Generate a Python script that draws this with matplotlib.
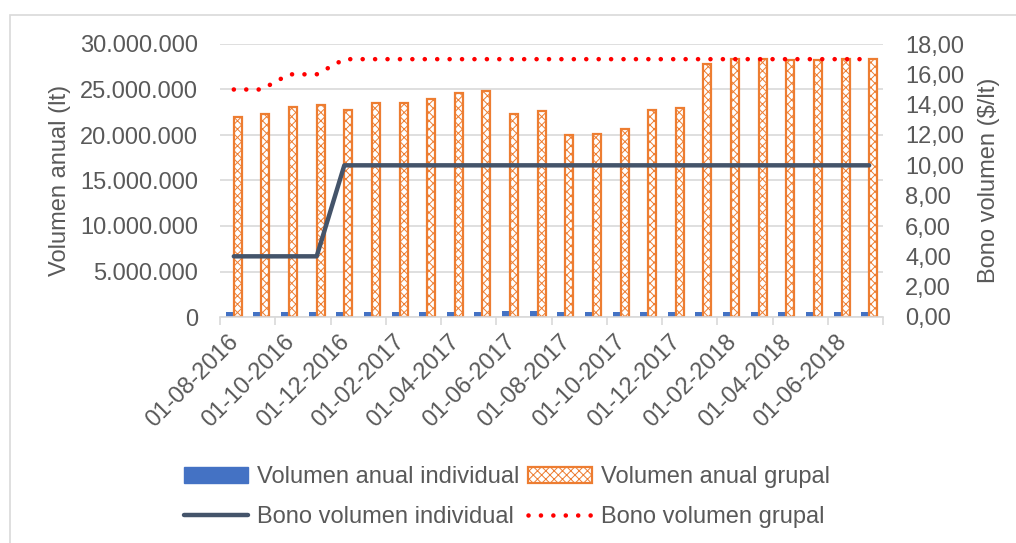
import matplotlib
matplotlib.use("Agg")
import matplotlib.pyplot as plt
from matplotlib.patches import Patch, Rectangle
from matplotlib.lines import Line2D
from matplotlib.ticker import FuncFormatter, FixedLocator
import matplotlib.transforms as mtransforms
import numpy as np

plt.rcParams['font.family'] = ['Liberation Sans', 'DejaVu Sans']
plt.rcParams['hatch.linewidth'] = 0.7

months = ["01-08-2016", "01-09-2016", "01-10-2016", "01-11-2016", "01-12-2016", "01-01-2017",
          "01-02-2017", "01-03-2017", "01-04-2017", "01-05-2017", "01-06-2017", "01-07-2017",
          "01-08-2017", "01-09-2017", "01-10-2017", "01-11-2017", "01-12-2017", "01-01-2018",
          "01-02-2018", "01-03-2018", "01-04-2018", "01-05-2018", "01-06-2018", "01-07-2018"]

vol_individual = [500000, 500000, 500000, 500000, 500000, 500000, 520000, 520000,
                  580000, 580000, 620000, 620000, 560000, 560000, 560000, 560000,
                  580000, 580000, 560000, 560000, 540000, 540000, 520000, 520000]
vol_grupal = [22000000, 22300000, 23050000, 23250000, 22800000, 23550000, 23500000, 24000000,
              24600000, 24800000, 22300000, 22600000, 20000000, 20100000, 20700000, 22800000,
              23000000, 27850000, 28400000, 28300000, 28250000, 28250000, 28300000, 28300000]
bono_individual = [4, 4, 4, 4, 10, 10, 10, 10, 10, 10, 10, 10,
                   10, 10, 10, 10, 10, 10, 10, 10, 10, 10, 10, 10]
bono_grupal = [15, 15, 16, 16, 17, 17, 17, 17, 17, 17, 17, 17,
               17, 17, 17, 17, 17, 17, 17, 17, 17, 17, 17, 17]

TXT = '#595959'
GRID = '#D9D9D9'
BLUE = '#4472C4'
ORANGE = '#ED7D31'
SLATE = '#44546A'
FS = 17

fig = plt.figure(figsize=(10.16, 5.43), dpi=100)
ax = fig.add_axes([220/1016, 226/543, 663/1016, 273/543])
ax2 = ax.twinx()

x = np.arange(len(months))
w = 0.29
ax.bar(x - w/2, vol_individual, width=w, color=BLUE, zorder=2)
ax.bar(x + w/2, vol_grupal, width=w, facecolor='white', edgecolor=ORANGE,
       hatch='xxxx', linewidth=1.6, zorder=2)

ax2.plot(x, bono_individual, color=SLATE, lw=3.2, solid_capstyle='round', zorder=3)
ax2.plot(x, bono_grupal, color='#FF0000', lw=3.3, linestyle=(0, (0.01, 2.7)),
         dash_capstyle='round', zorder=3)

ax.set_xlim(-0.5, len(months) - 0.5)
ax.set_ylim(0, 30000000)
ax2.set_ylim(0, 18)
ax.set_yticks(np.arange(0, 30000001, 5000000))
ax2.set_yticks(np.arange(0, 18.01, 2))
ax.yaxis.set_major_formatter(FuncFormatter(lambda v, p: f"{int(v):,}".replace(",", ".")))
ax2.yaxis.set_major_formatter(FuncFormatter(lambda v, p: f"{v:.2f}".replace(".", ",")))

ax.grid(axis='y', color=GRID, lw=1.2)
ax.set_axisbelow(True)
for a in (ax, ax2):
    for s in a.spines.values():
        s.set_visible(False)
ax.spines['bottom'].set_visible(True)
ax.spines['bottom'].set_color(GRID)
ax.spines['bottom'].set_linewidth(1.2)

ax.tick_params(axis='y', length=0, pad=16, labelsize=FS, labelcolor=TXT)
ax2.tick_params(axis='y', length=0, pad=16, labelsize=FS, labelcolor=TXT)

# x ticks: marks at category boundaries every 2, labels at every 2nd category
ax.xaxis.set_major_locator(FixedLocator(np.arange(-0.5, len(months), 2)))
ax.xaxis.set_major_formatter(FuncFormatter(lambda v, p: ""))
ax.set_xticks(x[::2], [months[i] for i in x[::2]], minor=True)
ax.tick_params(axis='x', which='major', length=6, color=GRID, width=1.2)
ax.tick_params(axis='x', which='minor', length=0, pad=10, labelsize=FS, labelcolor=TXT)
offset = mtransforms.ScaledTranslation(-6/100, 0, fig.dpi_scale_trans)
for lab in ax.get_xticklabels(minor=True):
    lab.set_rotation(45)
    lab.set_ha('right')
    lab.set_va('top')
    lab.set_rotation_mode('anchor')
    lab.set_transform(lab.get_transform() + offset)

ax.set_ylabel("Volumen anual (lt)", fontsize=FS, color=TXT)
ax.yaxis.set_label_coords((71 - 220) / 663, 0.5)
ax2.set_ylabel("Bono volumen ($/lt)", fontsize=FS, color=TXT, rotation=90)
ax2.yaxis.set_label_coords((978 - 220) / 663, 0.5)

handles = [Patch(facecolor=BLUE, edgecolor=BLUE),
           Line2D([], [], color=SLATE, lw=3.2, solid_capstyle='round'),
           Patch(facecolor='white', edgecolor=ORANGE, hatch='xxxx', linewidth=1.6),
           Line2D([], [], color='#FF0000', lw=3.3, linestyle=(0, (0.01, 2.7)), dash_capstyle='round')]
labels = ["Volumen anual individual", "Bono volumen individual",
          "Volumen anual grupal", "Bono volumen grupal"]
leg = fig.legend(handles, labels, ncol=2, loc='center', bbox_to_anchor=(507/1016, 1 - 497/543),
                 frameon=False, fontsize=FS, handlelength=2.7, handletextpad=0.4,
                 columnspacing=0.35, labelspacing=0.75)
for t in leg.get_texts():
    t.set_color(TXT)

fig.patches.append(Rectangle((10/1016, -0.05), 1.1, 1 - 15/543 + 0.05, transform=fig.transFigure,
                             fill=False, edgecolor=GRID, lw=1.2))

fig.savefig("out.png", dpi=100)
